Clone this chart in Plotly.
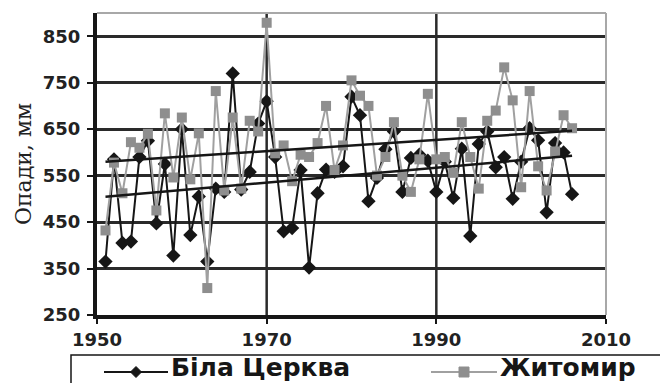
import numpy as np
import plotly.graph_objects as go

# Annual precipitation totals, mm
years = list(range(1951, 2007))
bila_tserkva = [365, 585, 405, 408, 590, 625, 447, 575, 378, 650,
                422, 505, 365, 522, 515, 770, 520, 558, 662, 710,
                590, 430, 437, 562, 352, 512, 563, 558, 570, 720,
                680, 495, 545, 607, 645, 515, 588, 595, 582, 515,
                580, 502, 608, 420, 618, 645, 568, 590, 500, 580,
                652, 626, 471, 620, 600, 510]
zhytomyr = [432, 578, 512, 622, 610, 640, 475, 684, 546, 675,
            542, 641, 308, 732, 518, 675, 522, 668, 645, 879,
            598, 615, 538, 595, 590, 620, 700, 562, 615, 755,
            722, 700, 550, 590, 665, 550, 515, 585, 726, 585,
            590, 556, 665, 590, 522, 668, 690, 783, 712, 525,
            732, 570, 518, 602, 680, 652]

x_ticks = [1950, 1970, 1990, 2010]
y_ticks = [250, 350, 450, 550, 650, 750, 850]
name_bc = "Біла Церква"
name_zh = "Житомир"

BLACK = "#161616"
GRID = "#2a2a2a"
GREY = "#8e8e8e"
GREY_LINE = "#a0a0a0"

W, H = 660, 383
ML, MR, MT, MB = 97, 54, 13, 68
PW, PH = W - ML - MR, H - MT - MB


def px(xp):
    return (xp - ML) / PW


def py(yp):
    return (H - MB - yp) / PH


fig = go.Figure()

fig.add_trace(go.Scatter(
    x=years, y=bila_tserkva, mode="lines+markers", name=name_bc,
    line=dict(color=BLACK, width=2),
    marker=dict(symbol="diamond", size=11, color=BLACK),
    showlegend=False))
fig.add_trace(go.Scatter(
    x=years, y=zhytomyr, mode="lines+markers", name=name_zh,
    line=dict(color=GREY_LINE, width=2),
    marker=dict(symbol="square", size=10, color=GREY),
    showlegend=False))

# linear trends of both series
for series in (zhytomyr, bila_tserkva):
    k, b = np.polyfit(years, series, 1)
    xs = np.array([years[0], years[-1]])
    fig.add_trace(go.Scatter(x=xs, y=k * xs + b, mode="lines",
                             line=dict(color=BLACK, width=2.5),
                             showlegend=False, hoverinfo="skip"))

shapes = []
# vertical grid
for xv in x_ticks[1:-1]:
    shapes.append(dict(type="line", xref="x", yref="paper", x0=xv, x1=xv,
                       y0=0, y1=1, line=dict(color=GRID, width=2.5),
                       layer="below"))
# light frame on top and right
shapes.append(dict(type="line", xref="paper", yref="paper", x0=0, x1=1,
                   y0=1, y1=1, line=dict(color="#a8a8a8", width=2)))
shapes.append(dict(type="line", xref="paper", yref="paper", x0=1, x1=1,
                   y0=0, y1=1, line=dict(color="#a8a8a8", width=2)))

# legend box
shapes.append(dict(type="rect", xref="paper", yref="paper",
                   x0=px(71), x1=px(680), y0=py(355), y1=py(400),
                   line=dict(color=BLACK, width=1.5), fillcolor="white"))
ly = 372
# legend samples
shapes.append(dict(type="line", xref="paper", yref="paper",
                   x0=px(104), x1=px(168), y0=py(ly), y1=py(ly),
                   line=dict(color=BLACK, width=2)))
d = 5.5
cx = 136
shapes.append(dict(type="path", xref="paper", yref="paper",
                   path=f"M {px(cx - d)},{py(ly)} L {px(cx)},{py(ly - d)} "
                        f"L {px(cx + d)},{py(ly)} L {px(cx)},{py(ly + d)} Z",
                   line=dict(color=BLACK, width=1), fillcolor=BLACK))
shapes.append(dict(type="line", xref="paper", yref="paper",
                   x0=px(431), x1=px(497), y0=py(ly), y1=py(ly),
                   line=dict(color=GREY_LINE, width=2)))
s = 5
cs = 464
shapes.append(dict(type="rect", xref="paper", yref="paper",
                   x0=px(cs - s), x1=px(cs + s), y0=py(ly - s), y1=py(ly + s),
                   line=dict(color=GREY, width=1), fillcolor=GREY))

legend_font = dict(family="DejaVu Sans", size=25, color=BLACK, weight="bold")
annotations = [
    dict(text=name_bc, xref="paper", yref="paper", x=px(170), y=py(383),
         xanchor="left", yanchor="bottom", showarrow=False, borderpad=0,
         font=legend_font),
    dict(text=name_zh, xref="paper", yref="paper", x=px(499), y=py(383),
         xanchor="left", yanchor="bottom", showarrow=False, borderpad=0,
         font=legend_font),
]

tickfont = dict(family="DejaVu Sans", size=18, color="#222222", weight="bold")

fig.update_layout(
    width=W, height=H,
    margin=dict(l=ML, r=MR, t=MT, b=MB, pad=0),
    paper_bgcolor="white", plot_bgcolor="white",
    shapes=shapes, annotations=annotations,
    xaxis=dict(range=[1950, 2010], tickvals=x_ticks, showgrid=False,
               zeroline=False, showline=True, linecolor=BLACK, linewidth=4,
               ticks="outside", ticklen=5, tickwidth=2, tickcolor=BLACK,
               tickfont=tickfont),
    yaxis=dict(range=[250, 900], tickvals=y_ticks, showgrid=True,
               gridcolor=GRID, gridwidth=2.5, zeroline=False,
               showline=True, linecolor=BLACK, linewidth=4,
               ticks="outside", ticklen=6, tickwidth=2, tickcolor=BLACK,
               ticklabelstandoff=3, tickfont=tickfont,
               title=dict(text="Опади, мм", standoff=6,
                          font=dict(family="DejaVu Serif", size=22,
                                    color="#222222"))),
)

fig.write_html("out.html")
